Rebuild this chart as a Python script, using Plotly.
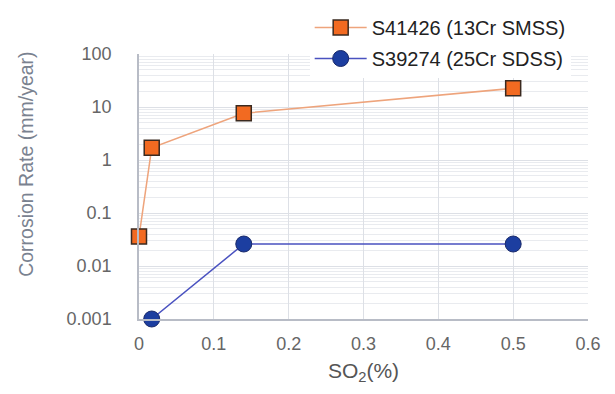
import plotly.graph_objects as go

so2_smss = [0, 0.017, 0.14, 0.5]
rate_smss = [0.036, 1.7, 7.6, 22.5]
so2_sdss = [0.017, 0.14, 0.5]
rate_sdss = [0.001, 0.026, 0.026]
name_smss = "S41426 (13Cr SMSS)"
name_sdss = "S39274 (25Cr SDSS)"
y_ticks = [0.001, 0.01, 0.1, 1, 10, 100]
y_tick_text = ["0.001", "0.01", "0.1", "1", "10", "100"]
x_ticks = [0, 0.1, 0.2, 0.3, 0.4, 0.5, 0.6]
x_tick_text = ["0", "0.1", "0.2", "0.3", "0.4", "0.5", "0.6"]
y_title = "Corrosion Rate (mm/year)"
x_title = "SO<sub>2</sub>(%)"

fig = go.Figure()
fig.add_trace(go.Scatter(
    x=so2_smss, y=rate_smss, name=name_smss, mode="lines+markers", legendgroup="a",
    line=dict(color="#eea47c", width=1.5),
    marker=dict(symbol="square", size=15, color="#f26a21", line=dict(color="#3a2a20", width=1.5)),
    cliponaxis=False,
))
fig.add_trace(go.Scatter(
    x=so2_sdss, y=rate_sdss, name=name_sdss, mode="lines+markers", legendgroup="b",
    line=dict(color="#4a52c0", width=1.5),
    marker=dict(symbol="circle", size=16, color="#1c3ea0", line=dict(color="#1a2a6a", width=1)),
    cliponaxis=False,
))

# page body has an 8px margin; figure sized/offset to compensate
fig.update_layout(
    template="none",
    width=607, height=386,
    margin=dict(l=131, r=27, t=46, b=75, autoexpand=False),
    paper_bgcolor="white", plot_bgcolor="white",
    font=dict(family="Liberation Sans, Arial, sans-serif", color="#666666", size=18),
    legend=dict(xref="container", yref="container", x=0.497, y=1.018,
                xanchor="left", yanchor="top", bgcolor="rgba(255,255,255,1)",
                font=dict(size=20, color="#222222"), tracegroupgap=2, itemwidth=52,
                borderwidth=0),
    showlegend=True,
    annotations=[dict(
        text=y_title, textangle=-90, xref="paper", yref="paper",
        x=-0.252, y=0.585, xanchor="center", yanchor="middle", showarrow=False,
        font=dict(size=19.5, color="#7a8290"),
    )],
)
fig.update_xaxes(
    range=[0, 0.6], tickvals=x_ticks, ticktext=x_tick_text,
    showgrid=True, gridcolor="#dde0e6", gridwidth=1,
    showline=True, linecolor="#b8bcc6", linewidth=1.5, zeroline=False,
    ticks="outside", ticklen=8, tickcolor="rgba(0,0,0,0)",
    tickfont=dict(size=18, color="#666666"), automargin=False,
    title=dict(text=x_title, font=dict(size=21, color="#555555"), standoff=10),
)
fig.update_yaxes(
    type="log", range=[-3, 2], tickvals=y_ticks, ticktext=y_tick_text,
    showgrid=True, gridcolor="#dde0e6", gridwidth=1,
    minor=dict(dtick="D1", showgrid=True, gridcolor="#e9ebef", gridwidth=1, ticks=""),
    showline=True, linecolor="#b8bcc6", linewidth=1.5, zeroline=False,
    ticks="outside", ticklen=22, tickcolor="rgba(0,0,0,0)",
    tickfont=dict(size=18, color="#666666"), automargin=False,
)

fig.write_html("out.html")
